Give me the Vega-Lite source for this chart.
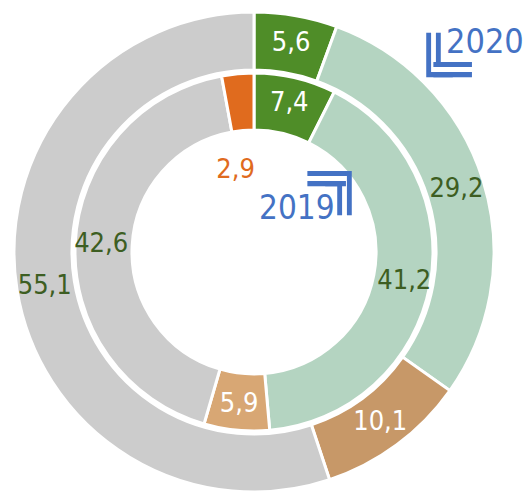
{
  "$schema": "https://vega.github.io/schema/vega-lite/v6.json",
  "width": 508,
  "height": 504,
  "autosize": "none",
  "padding": {"left": 0, "top": 0, "right": 18, "bottom": 0},
  "background": "white",
  "config": {"view": {"stroke": null}},
  "data": {
    "values": [
      {"ring": "2020", "cat": "dg", "key": "2020-dg", "value": 5.6, "order": 1, "label": "5,6"},
      {"ring": "2020", "cat": "lg", "key": "2020-lg", "value": 29.2, "order": 2, "label": "29,2"},
      {"ring": "2020", "cat": "tan", "key": "2020-tan", "value": 10.1, "order": 3, "label": "10,1"},
      {"ring": "2020", "cat": "gray", "key": "2020-gray", "value": 55.1, "order": 4, "label": "55,1"},
      {"ring": "2019", "cat": "dg", "key": "2019-dg", "value": 7.4, "order": 1, "label": "7,4"},
      {"ring": "2019", "cat": "lg", "key": "2019-lg", "value": 41.2, "order": 2, "label": "41,2"},
      {"ring": "2019", "cat": "tan", "key": "2019-tan", "value": 5.9, "order": 3, "label": "5,9"},
      {"ring": "2019", "cat": "gray", "key": "2019-gray", "value": 42.6, "order": 4, "label": "42,6"},
      {"ring": "2019", "cat": "or", "key": "2019-or", "value": 2.9, "order": 5, "label": "2,9"}
    ]
  },
  "layer": [
    {
      "transform": [{"filter": "datum.ring == '2020'"}],
      "layer": [
        {
          "mark": {"type": "arc", "radius": 240, "radius2": 182, "stroke": "white", "strokeWidth": 3},
          "encoding": {
            "theta": {"field": "value", "type": "quantitative", "stack": true},
            "order": {"field": "order", "type": "quantitative"},
            "color": {
              "field": "key", "type": "nominal", "legend": null,
              "scale": {
                "domain": ["2020-dg", "2020-lg", "2020-tan", "2020-gray", "2019-dg", "2019-lg", "2019-tan", "2019-gray", "2019-or"],
                "range": ["#4f8d28", "#b4d4c1", "#c79868", "#cccccc", "#4f8d28", "#b4d4c1", "#d8a774", "#cccccc", "#e06b1e"]
              }
            }
          }
        },
        {
          "mark": {"type": "text", "radius": 212, "font": "DejaVu Sans Condensed, Roboto", "fontSize": 27, "align": "center", "baseline": "middle"},
          "encoding": {
            "theta": {"field": "value", "type": "quantitative", "stack": true},
            "order": {"field": "order", "type": "quantitative"},
            "text": {"field": "label"},
            "color": {
              "condition": {"test": "datum.cat == 'dg' || datum.cat == 'tan'", "value": "white"},
              "value": "#3d5e22"
            }
          }
        }
      ]
    },
    {
      "transform": [{"filter": "datum.ring == '2019'"}],
      "layer": [
        {
          "mark": {"type": "arc", "radius": 179, "radius2": 122, "stroke": "white", "strokeWidth": 3},
          "encoding": {
            "theta": {"field": "value", "type": "quantitative", "stack": true},
            "order": {"field": "order", "type": "quantitative"},
            "color": {"field": "key", "type": "nominal", "legend": null}
          }
        },
        {
          "mark": {"type": "text", "radius": 153, "font": "DejaVu Sans Condensed, Roboto", "fontSize": 27, "align": "center", "baseline": "middle"},
          "encoding": {
            "theta": {"field": "value", "type": "quantitative", "stack": true},
            "order": {"field": "order", "type": "quantitative"},
            "text": {"field": "label"},
            "opacity": {"condition": {"test": "datum.cat == 'or'", "value": 0}, "value": 1},
            "color": {
              "condition": {"test": "datum.cat == 'dg' || datum.cat == 'tan'", "value": "white"},
              "value": "#3d5e22"
            }
          }
        },
        {
          "mark": {"type": "text", "radius": 82, "dx": -11, "font": "DejaVu Sans Condensed, Roboto", "fontSize": 27, "align": "center", "baseline": "middle", "color": "#e06b1e"},
          "encoding": {
            "theta": {"field": "value", "type": "quantitative", "stack": true},
            "order": {"field": "order", "type": "quantitative"},
            "text": {"field": "label"},
            "opacity": {"condition": {"test": "datum.cat == 'or'", "value": 1}, "value": 0}
          }
        }
      ]
    },
    {
      "data": {"values": [{"t": "2020"}]},
      "mark": {"type": "text", "font": "DejaVu Sans Condensed, Roboto", "fontSize": 34, "align": "left", "baseline": "alphabetic", "color": "#4472c4"},
      "encoding": {"x": {"value": 446}, "y": {"value": 53}, "text": {"field": "t"}}
    },
    {
      "data": {"values": [{"t": "╚"}]},
      "mark": {"type": "text", "font": "DejaVu Sans Mono", "fontSize": 62, "align": "left", "baseline": "middle", "color": "#4472c4"},
      "encoding": {"x": {"value": 415}, "y": {"value": 72}, "text": {"field": "t"}}
    },
    {
      "data": {"values": [{"t": "═"}]},
      "mark": {"type": "text", "font": "DejaVu Sans Mono", "fontSize": 62, "align": "left", "baseline": "middle", "color": "#4472c4"},
      "encoding": {"x": {"value": 434}, "y": {"value": 72}, "text": {"field": "t"}}
    },
    {
      "data": {"values": [{"t": "2019"}]},
      "mark": {"type": "text", "font": "DejaVu Sans Condensed, Roboto", "fontSize": 33, "align": "left", "baseline": "alphabetic", "color": "#4472c4"},
      "encoding": {"x": {"value": 259}, "y": {"value": 219}, "text": {"field": "t"}}
    },
    {
      "data": {"values": [{"t": "╗"}]},
      "mark": {"type": "text", "font": "DejaVu Sans Mono", "fontSize": 62, "align": "left", "baseline": "middle", "color": "#4472c4"},
      "encoding": {"x": {"value": 326}, "y": {"value": 181}, "text": {"field": "t"}}
    },
    {
      "data": {"values": [{"t": "═"}]},
      "mark": {"type": "text", "font": "DejaVu Sans Mono", "fontSize": 62, "align": "left", "baseline": "middle", "color": "#4472c4"},
      "encoding": {"x": {"value": 308}, "y": {"value": 181}, "text": {"field": "t"}}
    }
  ]
}
